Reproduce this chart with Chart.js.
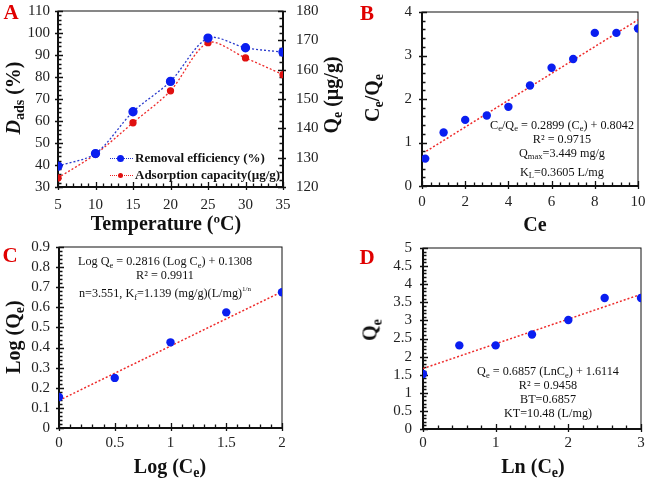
<!DOCTYPE html>
<html>
<head>
<meta charset="utf-8">
<script src="https://cdn.jsdelivr.net/npm/chart.js@4.4.1/dist/chart.umd.min.js"></script>
<style>
  body { margin: 0; background: #fff; }
  #page { position: relative; width: 647px; height: 481px; overflow: hidden; font-family: "Liberation Serif", serif; color: #111; }
  .box { position: absolute; }
  .t { position: absolute; transform: translate(-50%, -50%); white-space: nowrap; }
  .r { position: absolute; transform: translate(-50%, -50%) rotate(-90deg); white-space: nowrap; }
  .lab { font-size: 21px; font-weight: bold; color: #e00000; }
  .ttl { font-size: 20px; font-weight: bold; }
  .note { font-size: 12.2px; line-height: 14px; text-align: center; }
  sub { font-size: 70%; vertical-align: -0.35em; line-height: 0; }
  .leg { position: absolute; font-size: 13px; font-weight: bold; white-space: nowrap; }
</style>
</head>
<body>
<div id="page">
  <div class="box" style="left:0;top:0;width:330px;height:240px"><canvas id="cA"></canvas></div>
  <div class="box" style="left:330px;top:0;width:317px;height:240px"><canvas id="cB"></canvas></div>
  <div class="box" style="left:0;top:240px;width:330px;height:241px"><canvas id="cC"></canvas></div>
  <div class="box" style="left:330px;top:240px;width:317px;height:241px"><canvas id="cD"></canvas></div>

  <!-- panel letters -->
  <div class="t lab" style="left:11px;top:12px">A</div>
  <div class="t lab" style="left:367px;top:13px">B</div>
  <div class="t lab" style="left:10px;top:255px">C</div>
  <div class="t lab" style="left:367px;top:257px">D</div>

  <!-- axis titles -->
  <div class="t ttl" style="left:166px;top:223px">Temperature (ºC)</div>
  <div class="r ttl" style="left:13px;top:98px"><i>D</i><sub>ads</sub> (%)</div>
  <div class="r ttl" style="left:331px;top:95px">Q<sub>e</sub> (µg/g)</div>
  <div class="t ttl" style="left:535px;top:224px">Ce</div>
  <div class="r ttl" style="left:372px;top:98px">C<sub>e</sub>/Q<sub>e</sub></div>
  <div class="t ttl" style="left:170px;top:466px">Log (C<sub>e</sub>)</div>
  <div class="r ttl" style="left:13px;top:337px">Log (Q<sub>e</sub>)</div>
  <div class="t ttl" style="left:533px;top:466px">Ln (C<sub>e</sub>)</div>
  <div class="r ttl" style="left:370px;top:330px">Q<sub>e</sub></div>

  <!-- legend A -->
  <div style="position:absolute;left:110px;top:158px;width:23px;border-top:1.5px dotted #2233cc"></div>
  <div style="position:absolute;left:117px;top:155px;width:7px;height:7px;border-radius:50%;background:#0a1ef0"></div>
  <div class="leg" style="left:135px;top:150px">Removal efficiency (%)</div>
  <div style="position:absolute;left:110px;top:175px;width:23px;border-top:1.5px dotted #ee2222"></div>
  <div style="position:absolute;left:118px;top:173px;width:5px;height:5px;border-radius:50%;background:#e01010"></div>
  <div class="leg" style="left:135px;top:167px">Adsorption capacity(µg/g)</div>

  <!-- annotations -->
  <div class="t note" style="left:562px;top:148px">
    C<sub>e</sub>/Q<sub>e</sub> = 0.2899 (C<sub>e</sub>) + 0.8042<br>
    R² = 0.9715<br>
    Q<sub>max</sub>=3.449 mg/g<br>
    <span style="display:inline-block;margin-top:5px">K<sub>L</sub>=0.3605 L/mg</span>
  </div>
  <div class="t note" style="left:165px;top:277px">
    Log Q<sub>e</sub> = 0.2816 (Log C<sub>e</sub>) + 0.1308<br>
    R² = 0.9911<br>
    n=3.551, K<sub>f</sub>=1.139 (mg/g)(L/mg)<sup style="font-size:7px">1/n</sup>
  </div>
  <div class="t note" style="left:548px;top:392px">
    Q<sub>e</sub> = 0.6857 (LnC<sub>e</sub>) + 1.6114<br>
    R² = 0.9458<br>
    BT=0.6857<br>
    KT=10.48 (L/mg)
  </div>
</div>

<script>
// A: effect of temperature
const tempC = [5, 10, 15, 20, 25, 30, 35];
const removalPct = [39.5, 45.2, 64.2, 78, 97.7, 93.3, 91.3];
const adsCapacity = [123.1, 131.2, 141.9, 152.8, 169.2, 164, 158.3];

// B: Langmuir
const ceB = [0.15, 1, 2, 3, 4, 5, 6, 7, 8, 9, 10];
const ceQeB = [0.63, 1.23, 1.52, 1.62, 1.82, 2.31, 2.72, 2.92, 3.52, 3.52, 3.62];
const fitBx = [0.2, 10];
const fitBy = [0.8, 3.82];

// C: Freundlich
const logCe = [0, 0.5, 1, 1.5, 2];
const logQe = [0.154, 0.249, 0.426, 0.575, 0.675];
const fitCx = [0, 2];
const fitCy = [0.137, 0.678];

// D: Temkin
const lnCe = [0, 0.5, 1, 1.5, 2, 2.5, 3];
const qeD = [1.52, 2.31, 2.31, 2.61, 3.01, 3.62, 3.62];
const fitDx = [0, 3];
const fitDy = [1.67, 3.72];

const BLUE = '#0a1ef0';
const RED = '#ee2a2a';
const tickFont = { family: 'Liberation Serif', size: 15 };

function pts(xs, ys) {
  return xs.map((x, i) => ({ x: x, y: ys[i] }));
}

// box, thick axes and minor/major tick marks
const frame = {
  id: 'frame',
  beforeDatasetsDraw(chart, args, opts) {
    const { ctx, chartArea: a, scales } = chart;
    ctx.save();
    ctx.strokeStyle = '#111';
    ctx.lineWidth = 1;
    ctx.strokeRect(a.left, a.top, a.right - a.left, a.bottom - a.top);
    ctx.lineWidth = 2;
    ctx.beginPath();
    ctx.moveTo(a.left, a.top);
    ctx.lineTo(a.left, a.bottom);
    ctx.lineTo(a.right, a.bottom);
    if (opts.rightThick) ctx.lineTo(a.right, a.top);
    ctx.stroke();
    ctx.lineWidth = 1.3;
    for (const id in opts.minor) {
      const s = scales[id];
      const step = opts.minor[id];
      const n = Math.round((s.max - s.min) / step);
      ctx.beginPath();
      for (let i = 0; i <= n; i++) {
        const v = s.min + i * step;
        const p = Math.round(s.getPixelForValue(v)) + 0.5;
        const major = s.ticks.some(t => Math.abs(t.value - v) < step / 10);
        const inn = major ? 5 : 3.5, out = major ? 3 : 0;
        if (s.isHorizontal()) {
          ctx.moveTo(p, a.bottom + out); ctx.lineTo(p, a.bottom - inn);
        } else if (s.position === 'right') {
          ctx.moveTo(a.right + out, p); ctx.lineTo(a.right - inn, p);
        } else {
          ctx.moveTo(a.left - out, p); ctx.lineTo(a.left + inn, p);
        }
      }
      ctx.stroke();
    }
    ctx.restore();
  }
};

function axis(min, max, step, size, pad, position) {
  return {
    type: 'linear',
    position: position,
    min: min,
    max: max,
    grid: { display: false, drawTicks: false },
    border: { display: false },
    ticks: {
      font: tickFont, color: '#222', padding: pad, stepSize: step,
      autoSkip: false, maxRotation: 0,
      callback: v => String(Math.round(v * 100) / 100)
    },
    afterFit(s) {
      if (s.isHorizontal()) s.height = size; else s.width = size;
      // the plot area is set by layout padding alone
      s.paddingTop = s.paddingBottom = s.paddingLeft = s.paddingRight = 0;
    }
  };
}

function baseOptions(padding, scales, frameOpts) {
  return {
    responsive: true,
    maintainAspectRatio: false,
    animation: false,
    layout: { padding: padding },
    plugins: { legend: { display: false }, tooltip: { enabled: false }, frame: frameOpts },
    scales: scales
  };
}

function fitLine(xs, ys) {
  return {
    data: pts(xs, ys), showLine: true, pointRadius: 0,
    borderColor: RED, borderWidth: 1.5, borderDash: [2, 2]
  };
}

function markers(xs, ys) {
  return {
    data: pts(xs, ys), showLine: false, pointRadius: 4.2,
    pointBackgroundColor: BLUE, pointBorderColor: BLUE, pointBorderWidth: 0
  };
}

// Panel A
new Chart(document.getElementById('cA'), {
  type: 'scatter',
  data: {
    datasets: [{
      data: pts(tempC, removalPct), yAxisID: 'y', showLine: true, tension: 0.3,
      borderColor: '#2a3acc', borderWidth: 1.3, borderDash: [2, 2],
      pointRadius: 4, pointBackgroundColor: BLUE, pointBorderColor: BLUE
    }, {
      data: pts(tempC, adsCapacity), yAxisID: 'y1', showLine: true, tension: 0.3,
      borderColor: RED, borderWidth: 1.3, borderDash: [2, 2],
      pointRadius: 3, pointBackgroundColor: '#e01010', pointBorderColor: '#e01010'
    }]
  },
  options: baseOptions({ top: 11 }, {
    x: axis(5, 35, 5, 53, 9, 'bottom'),
    y: axis(30, 110, 10, 58, 8, 'left'),
    y1: axis(120, 180, 10, 47, 13, 'right')
  }, { rightThick: true, minor: { x: 1, y: 2, y1: 2.5 } }),
  plugins: [frame]
});

// Panel B
new Chart(document.getElementById('cB'), {
  type: 'scatter',
  data: { datasets: [markers(ceB, ceQeB), fitLine(fitBx, fitBy)] },
  options: baseOptions({ top: 12, right: 9 }, {
    x: axis(0, 10, 2, 54, 7, 'bottom'),
    y: axis(0, 4, 1, 92, 10, 'left')
  }, { minor: { x: 0.4, y: 0.2 } }),
  plugins: [frame]
});

// Panel C
new Chart(document.getElementById('cC'), {
  type: 'scatter',
  data: { datasets: [markers(logCe, logQe), fitLine(fitCx, fitCy)] },
  options: baseOptions({ top: 7, right: 48 }, {
    x: axis(0, 2, 0.5, 53, 6, 'bottom'),
    y: axis(0, 0.9, 0.1, 59, 9, 'left')
  }, { minor: { x: 0.1, y: 0.02 } }),
  plugins: [frame]
});

// Panel D
new Chart(document.getElementById('cD'), {
  type: 'scatter',
  data: { datasets: [markers(lnCe, qeD), fitLine(fitDx, fitDy)] },
  options: baseOptions({ top: 8, right: 6 }, {
    x: axis(0, 3, 1, 52, 5, 'bottom'),
    y: axis(0, 5, 0.5, 93, 11, 'left')
  }, { minor: { x: 0.2, y: 0.1 } }),
  plugins: [frame]
});
</script>
</body>
</html>
